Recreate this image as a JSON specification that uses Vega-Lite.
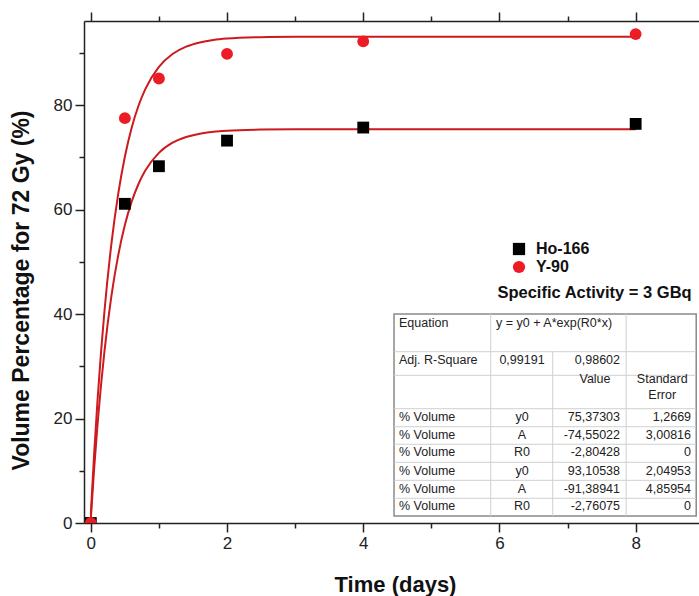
{
  "$schema": "https://vega.github.io/schema/vega-lite/v6.json",
  "width": 615,
  "height": 502,
  "autosize": {"type": "none"},
  "padding": {"left": 84, "top": 21, "right": 0, "bottom": 73},
  "background": "white",
  "config": {
    "view": {"stroke": null},
    "font": "Liberation Sans",
    "axis": {
      "domainColor": "#222",
      "domainWidth": 1.5,
      "tickColor": "#222",
      "tickWidth": 1.5,
      "labelFont": "Liberation Sans",
      "labelFontSize": 17,
      "labelColor": "#222",
      "titleFont": "Liberation Sans",
      "titleFontSize": 23,
      "titleFontWeight": "bold",
      "titleColor": "#111",
      "grid": false
    },
    "legend": {
      "orient": "none",
      "legendX": 427,
      "legendY": 220,
      "title": null,
      "labelFont": "Liberation Sans",
      "labelFontSize": 16,
      "labelFontWeight": "bold",
      "labelColor": "#111",
      "symbolSize": 150,
      "symbolStrokeWidth": 0,
      "labelOffset": 9,
      "rowPadding": 2,
      "padding": 0
    }
  },
  "resolve": {"axis": {"x": "independent", "y": "independent"}},
  "datasets": {
    "points": [
      {"series": "Ho-166", "time": 0, "vol": 0},
      {"series": "Ho-166", "time": 0.5, "vol": 61.1},
      {"series": "Ho-166", "time": 1, "vol": 68.3},
      {"series": "Ho-166", "time": 2, "vol": 73.2},
      {"series": "Ho-166", "time": 4, "vol": 75.7},
      {"series": "Ho-166", "time": 8, "vol": 76.4},
      {"series": "Y-90", "time": 0, "vol": 0},
      {"series": "Y-90", "time": 0.5, "vol": 77.5},
      {"series": "Y-90", "time": 1, "vol": 85.1},
      {"series": "Y-90", "time": 2, "vol": 89.8},
      {"series": "Y-90", "time": 4, "vol": 92.2},
      {"series": "Y-90", "time": 8, "vol": 93.6}
    ],
    "curves": [
      {"series": "Ho-166", "time": 0, "fit": 0.82},
      {"series": "Ho-166", "time": 0.05, "fit": 10.57},
      {"series": "Ho-166", "time": 0.1, "fit": 19.05},
      {"series": "Ho-166", "time": 0.15, "fit": 26.42},
      {"series": "Ho-166", "time": 0.2, "fit": 32.82},
      {"series": "Ho-166", "time": 0.3, "fit": 43.23},
      {"series": "Ho-166", "time": 0.4, "fit": 51.08},
      {"series": "Ho-166", "time": 0.5, "fit": 57.03},
      {"series": "Ho-166", "time": 0.6, "fit": 61.51},
      {"series": "Ho-166", "time": 0.7, "fit": 64.9},
      {"series": "Ho-166", "time": 0.8, "fit": 67.46},
      {"series": "Ho-166", "time": 1.0, "fit": 70.86},
      {"series": "Ho-166", "time": 1.2, "fit": 72.8},
      {"series": "Ho-166", "time": 1.4, "fit": 73.9},
      {"series": "Ho-166", "time": 1.6, "fit": 74.53},
      {"series": "Ho-166", "time": 1.8, "fit": 74.89},
      {"series": "Ho-166", "time": 2.0, "fit": 75.1},
      {"series": "Ho-166", "time": 2.5, "fit": 75.31},
      {"series": "Ho-166", "time": 3, "fit": 75.36},
      {"series": "Ho-166", "time": 4, "fit": 75.37},
      {"series": "Ho-166", "time": 8, "fit": 75.37},
      {"series": "Y-90", "time": 0, "fit": 1.72},
      {"series": "Y-90", "time": 0.05, "fit": 13.5},
      {"series": "Y-90", "time": 0.1, "fit": 23.76},
      {"series": "Y-90", "time": 0.15, "fit": 32.71},
      {"series": "Y-90", "time": 0.2, "fit": 40.49},
      {"series": "Y-90", "time": 0.3, "fit": 53.19},
      {"series": "Y-90", "time": 0.4, "fit": 62.82},
      {"series": "Y-90", "time": 0.5, "fit": 70.12},
      {"series": "Y-90", "time": 0.6, "fit": 75.67},
      {"series": "Y-90", "time": 0.7, "fit": 79.87},
      {"series": "Y-90", "time": 0.8, "fit": 83.07},
      {"series": "Y-90", "time": 1.0, "fit": 87.33},
      {"series": "Y-90", "time": 1.2, "fit": 89.78},
      {"series": "Y-90", "time": 1.4, "fit": 91.19},
      {"series": "Y-90", "time": 1.6, "fit": 92.0},
      {"series": "Y-90", "time": 1.8, "fit": 92.47},
      {"series": "Y-90", "time": 2.0, "fit": 92.74},
      {"series": "Y-90", "time": 2.5, "fit": 93.01},
      {"series": "Y-90", "time": 3, "fit": 93.08},
      {"series": "Y-90", "time": 4, "fit": 93.1},
      {"series": "Y-90", "time": 8, "fit": 93.105}
    ],
    "tableLines": [
      {"x": 4.452, "x2": 8.889, "y": 32.79, "y2": 32.79},
      {"x": 4.452, "x2": 8.889, "y": 28.27, "y2": 28.27},
      {"x": 4.452, "x2": 8.889, "y": 21.88, "y2": 21.88},
      {"x": 4.452, "x2": 8.889, "y": 18.43, "y2": 18.43},
      {"x": 4.452, "x2": 8.889, "y": 15.07, "y2": 15.07},
      {"x": 4.452, "x2": 8.889, "y": 11.62, "y2": 11.62},
      {"x": 4.452, "x2": 8.889, "y": 8.17, "y2": 8.17},
      {"x": 4.452, "x2": 8.889, "y": 4.73, "y2": 4.73},
      {"x": 5.872, "x2": 5.872, "y": 40.01, "y2": 1.34},
      {"x": 6.782, "x2": 6.782, "y": 32.79, "y2": 1.34},
      {"x": 7.86, "x2": 7.86, "y": 40.01, "y2": 1.34}
    ],
    "tableText": [
      {"col": "label", "y": 38.29, "text": "Equation"},
      {"col": "eq", "y": 38.29, "text": "y = y0 + A*exp(R0*x)"},
      {"col": "label", "y": 31.2, "text": "Adj. R-Square"},
      {"col": "c2", "y": 31.2, "text": "0,99191"},
      {"col": "c3", "y": 31.2, "text": "0,98602"},
      {"col": "h3", "y": 27.57, "text": "Value"},
      {"col": "h4", "y": 27.57, "text": "Standard"},
      {"col": "h4", "y": 24.5, "text": "Error"},
      {"col": "label", "y": 20.29, "text": "% Volume"},
      {"col": "c2", "y": 20.29, "text": "y0"},
      {"col": "c3", "y": 20.29, "text": "75,37303"},
      {"col": "c4", "y": 20.29, "text": "1,2669"},
      {"col": "label", "y": 16.85, "text": "% Volume"},
      {"col": "c2", "y": 16.85, "text": "A"},
      {"col": "c3", "y": 16.85, "text": "-74,55022"},
      {"col": "c4", "y": 16.85, "text": "3,00816"},
      {"col": "label", "y": 13.5, "text": "% Volume"},
      {"col": "c2", "y": 13.5, "text": "R0"},
      {"col": "c3", "y": 13.5, "text": "-2,80428"},
      {"col": "c4", "y": 13.5, "text": "0"},
      {"col": "label", "y": 10.05, "text": "% Volume"},
      {"col": "c2", "y": 10.05, "text": "y0"},
      {"col": "c3", "y": 10.05, "text": "93,10538"},
      {"col": "c4", "y": 10.05, "text": "2,04953"},
      {"col": "label", "y": 6.6, "text": "% Volume"},
      {"col": "c2", "y": 6.6, "text": "A"},
      {"col": "c3", "y": 6.6, "text": "-91,38941"},
      {"col": "c4", "y": 6.6, "text": "4,85954"},
      {"col": "label", "y": 3.25, "text": "% Volume"},
      {"col": "c2", "y": 3.25, "text": "R0"},
      {"col": "c3", "y": 3.25, "text": "-2,76075"},
      {"col": "c4", "y": 3.25, "text": "0"}
    ]
  },
  "layer": [
    {
      "data": {"name": "curves"},
      "mark": {"type": "line", "color": "#cc1a1f", "strokeWidth": 2, "interpolate": "monotone", "clip": true},
      "encoding": {
        "x": {
          "field": "time", "type": "quantitative",
          "scale": {"domain": [-0.1, 8.93], "nice": false, "zero": false},
          "axis": {
            "orient": "bottom",
            "values": [0, 1, 2, 3, 4, 5, 6, 7, 8],
            "labelExpr": "datum.value % 2 === 0 ? datum.label : ''",
            "tickSize": {"condition": {"test": "datum.value % 2 === 0", "value": 9}, "value": 5},
            "labelPadding": 3,
            "title": "Time (days)",
            "titleFontSize": 22,
            "titleX": 311,
            "titleY": 61,
            "titleAnchor": null,
            "titleAlign": "center",
            "titleBaseline": "middle"
          }
        },
        "y": {
          "field": "fit", "type": "quantitative",
          "scale": {"domain": [0, 96.1], "nice": false},
          "axis": {
            "orient": "left",
            "values": [0, 10, 20, 30, 40, 50, 60, 70, 80, 90],
            "labelExpr": "datum.value % 20 === 0 ? datum.label : ''",
            "tickSize": {"condition": {"test": "datum.value % 20 === 0", "value": 9}, "value": 5},
            "labelPadding": 3,
            "title": "Volume Percentage for 72 Gy (%)",
            "titleX": -63,
            "titleY": 269,
            "titleAngle": -90,
            "titleAlign": "center",
            "titleBaseline": "middle"
          }
        },
        "detail": {"field": "series"}
      }
    },
    {
      "data": {"name": "points"},
      "mark": {"type": "point", "filled": true, "opacity": 1, "size": 140, "clip": true},
      "encoding": {
        "x": {
          "field": "time", "type": "quantitative",
          "axis": {
            "orient": "top",
            "values": [0, 1, 2, 3, 4, 5, 6, 7, 8],
            "labels": false,
            "title": null,
            "tickSize": {"condition": {"test": "datum.value % 2 === 0", "value": 9}, "value": 5}
          }
        },
        "y": {"field": "vol", "type": "quantitative", "axis": null},
        "color": {
          "field": "series", "type": "nominal",
          "scale": {"domain": ["Ho-166", "Y-90"], "range": ["#000000", "#ec1c24"]}
        },
        "shape": {
          "field": "series", "type": "nominal",
          "scale": {"domain": ["Ho-166", "Y-90"], "range": ["square", "circle"]}
        }
      }
    },
    {
      "data": {"values": [{"label": "Specific Activity = 3 GBq", "t": 7.396, "v": 44.0}]},
      "mark": {"type": "text", "align": "center", "baseline": "middle", "font": "Liberation Sans", "fontSize": 16.5, "fontWeight": "bold", "color": "#111"},
      "encoding": {
        "x": {"field": "t", "type": "quantitative", "axis": null},
        "y": {"field": "v", "type": "quantitative", "axis": null},
        "text": {"field": "label"}
      }
    },
    {
      "data": {"values": [{"x": 4.452, "x2": 8.889, "y": 40.01, "y2": 1.34}]},
      "mark": {"type": "rect", "fill": "white", "stroke": "#8a8a8a", "strokeWidth": 1.5},
      "encoding": {
        "x": {"field": "x", "type": "quantitative", "axis": null},
        "x2": {"field": "x2"},
        "y": {"field": "y", "type": "quantitative", "axis": null},
        "y2": {"field": "y2"}
      }
    },
    {
      "data": {"name": "tableLines"},
      "mark": {"type": "rule", "color": "#d0d0d0", "strokeWidth": 1},
      "encoding": {
        "x": {"field": "x", "type": "quantitative", "axis": null},
        "x2": {"field": "x2"},
        "y": {"field": "y", "type": "quantitative", "axis": null},
        "y2": {"field": "y2"}
      }
    },
    {
      "data": {"name": "tableText"},
      "transform": [{"filter": "datum.col === 'label'"}],
      "mark": {"type": "text", "align": "left", "baseline": "middle", "font": "Liberation Sans", "fontSize": 12.5, "color": "#222"},
      "encoding": {"x": {"datum": 4.525, "type": "quantitative", "axis": null}, "y": {"field": "y", "type": "quantitative", "axis": null}, "text": {"field": "text"}}
    },
    {
      "data": {"name": "tableText"},
      "transform": [{"filter": "datum.col === 'eq'"}],
      "mark": {"type": "text", "align": "left", "baseline": "middle", "font": "Liberation Sans", "fontSize": 12.5, "color": "#222"},
      "encoding": {"x": {"datum": 5.95, "type": "quantitative", "axis": null}, "y": {"field": "y", "type": "quantitative", "axis": null}, "text": {"field": "text"}}
    },
    {
      "data": {"name": "tableText"},
      "transform": [{"filter": "datum.col === 'c2'"}],
      "mark": {"type": "text", "align": "center", "baseline": "middle", "font": "Liberation Sans", "fontSize": 12.5, "color": "#222"},
      "encoding": {"x": {"datum": 6.331, "type": "quantitative", "axis": null}, "y": {"field": "y", "type": "quantitative", "axis": null}, "text": {"field": "text"}}
    },
    {
      "data": {"name": "tableText"},
      "transform": [{"filter": "datum.col === 'c3'"}],
      "mark": {"type": "text", "align": "right", "baseline": "middle", "font": "Liberation Sans", "fontSize": 12.5, "color": "#222"},
      "encoding": {"x": {"datum": 7.77, "type": "quantitative", "axis": null}, "y": {"field": "y", "type": "quantitative", "axis": null}, "text": {"field": "text"}}
    },
    {
      "data": {"name": "tableText"},
      "transform": [{"filter": "datum.col === 'h3'"}],
      "mark": {"type": "text", "align": "center", "baseline": "middle", "font": "Liberation Sans", "fontSize": 12.5, "color": "#222"},
      "encoding": {"x": {"datum": 7.403, "type": "quantitative", "axis": null}, "y": {"field": "y", "type": "quantitative", "axis": null}, "text": {"field": "text"}}
    },
    {
      "data": {"name": "tableText"},
      "transform": [{"filter": "datum.col === 'h4'"}],
      "mark": {"type": "text", "align": "center", "baseline": "middle", "font": "Liberation Sans", "fontSize": 12.5, "color": "#222"},
      "encoding": {"x": {"datum": 8.39, "type": "quantitative", "axis": null}, "y": {"field": "y", "type": "quantitative", "axis": null}, "text": {"field": "text"}}
    },
    {
      "data": {"name": "tableText"},
      "transform": [{"filter": "datum.col === 'c4'"}],
      "mark": {"type": "text", "align": "right", "baseline": "middle", "font": "Liberation Sans", "fontSize": 12.5, "color": "#222"},
      "encoding": {"x": {"datum": 8.813, "type": "quantitative", "axis": null}, "y": {"field": "y", "type": "quantitative", "axis": null}, "text": {"field": "text"}}
    }
  ]
}
